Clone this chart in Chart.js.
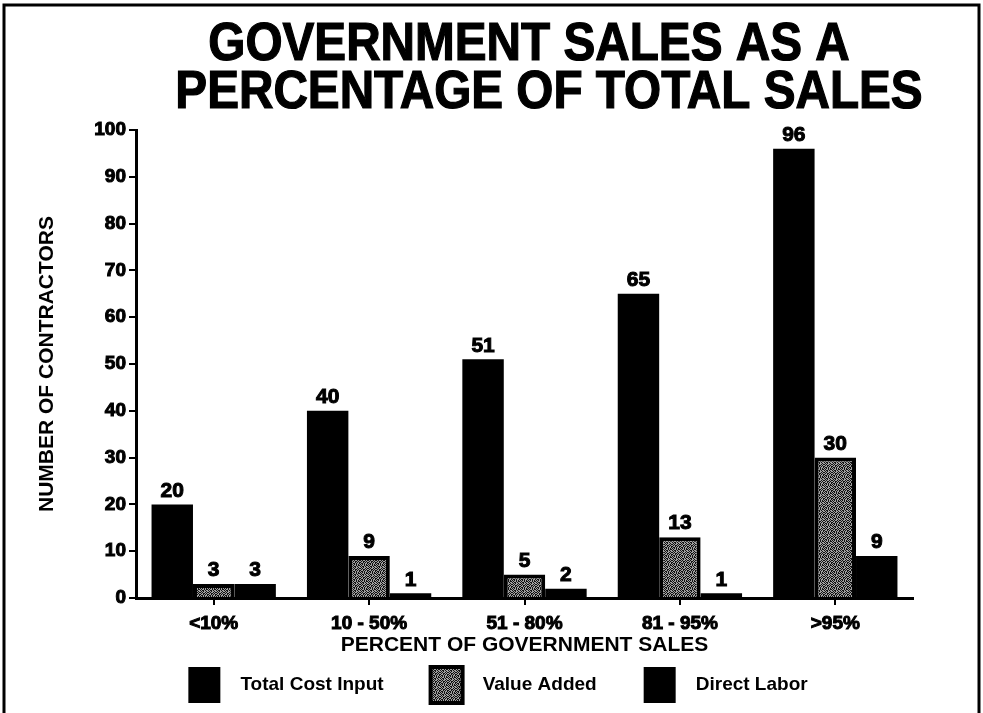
<!DOCTYPE html>
<html>
<head>
<meta charset="utf-8">
<title>Government Sales as a Percentage of Total Sales</title>
<script src="https://cdn.jsdelivr.net/npm/chart.js@4.4.1/dist/chart.umd.min.js"></script>
<style>
  html, body { margin: 0; padding: 0; background: #fff; }
  #wrap { width: 983px; height: 713px; }
</style>
</head>
<body>
<div id="wrap"><canvas id="salesChart" width="983" height="713"></canvas></div>
<script>
// categories and series
const categories = ['<10%', '10 - 50%', '51 - 80%', '81 - 95%', '>95%'];
const totalCostInput = [20, 40, 51, 65, 96];
const valueAdded = [3, 9, 5, 13, 30];
const directLabor = [3, 1, 2, 1, 9];

// y axis range
const yMin = 0;
const yMax = 100;
const yStep = 10;

const titleLines = ['GOVERNMENT SALES AS A', 'PERCENTAGE OF TOTAL SALES'];
const FONT = '"Liberation Sans", Arial, Helvetica, sans-serif';

Chart.defaults.font.family = FONT;
Chart.defaults.font.weight = 'bold';
Chart.defaults.color = '#000';

// speckled gray fill for the Value Added bars
function makeStipple() {
    const tile = [
        '#.#..#.#',
        '.#.##.#.',
        '#..#.#.#',
        '.##.#..#',
        '#.#.#.#.',
        '.#..#.##',
        '#.##.#..',
        '.#.#..#.'
    ];
    const c = document.createElement('canvas');
    c.width = tile[0].length;
    c.height = tile.length;
    const g = c.getContext('2d');
    tile.forEach((row, y) => {
        [...row].forEach((ch, x) => {
            g.fillStyle = ch === '#' ? '#111' : '#a0a0a0';
            g.fillRect(x, y, 1, 1);
        });
    });
    return g.createPattern(c, 'repeat');
}

const ctx = document.getElementById('salesChart');
const stipple = makeStipple();

// thin black frame round the whole sheet
const framePlugin = {
    id: 'frame',
    beforeDraw(chart) {
        const c = chart.ctx;
        c.save();
        c.fillStyle = '#fff';
        c.fillRect(0, 0, chart.width, chart.height);
        c.strokeStyle = '#000';
        c.lineWidth = 3;
        c.strokeRect(4, 5, chart.width - 8, chart.height + 20);
        c.restore();
    }
};

// two-line heading, squeezed a little like the printed type
const headingPlugin = {
    id: 'heading',
    afterDraw(chart) {
        const c = chart.ctx;
        const centers = [529, 549];
        const baselines = [60, 108];
        c.save();
        c.fillStyle = '#000';
        c.strokeStyle = '#000';
        c.lineWidth = 1.2;
        c.font = 'bold 53px ' + FONT;
        c.textAlign = 'center';
        c.textBaseline = 'alphabetic';
        titleLines.forEach((line, i) => {
            c.save();
            c.translate(centers[i], baselines[i]);
            c.scale(0.9, 1);
            c.fillText(line, 0, 0);
            c.strokeText(line, 0, 0);
            c.restore();
        });
        c.restore();
    }
};

// value printed above each bar
const valueLabels = {
    id: 'valueLabels',
    afterDatasetsDraw(chart) {
        const c = chart.ctx;
        c.save();
        c.fillStyle = '#000';
        c.strokeStyle = '#000';
        c.lineWidth = 1;
        c.font = 'bold 21px ' + FONT;
        c.textAlign = 'center';
        c.textBaseline = 'bottom';
        chart.data.datasets.forEach((ds, i) => {
            chart.getDatasetMeta(i).data.forEach((bar, j) => {
                const txt = String(ds.data[j]);
                c.fillText(txt, bar.x, bar.y - 3);
                c.strokeText(txt, bar.x, bar.y - 3);
            });
        });
        c.restore();
    }
};

// legend: shorter box so the plot can grow, placed across the full sheet width
const LEGEND_HEIGHT = 75;
const LEGEND_TOP = 620;
const legendPlace = {
    id: 'legendPlace',
    beforeLayout(chart) {
        const lg = chart.legend;
        if (lg && !lg._fitWrapped) {
            const fit = lg.fit;
            lg.fit = function () {
                fit.call(this);
                this.height = LEGEND_HEIGHT;
            };
            lg._fitWrapped = true;
        }
    },
    afterLayout(chart) {
        const lg = chart.legend;
        if (lg) {
            lg.left = 13;
            lg.right = chart.width;
            lg.top = LEGEND_TOP;
            lg.bottom = chart.height;
        }
    }
};

new Chart(ctx, {
    type: 'bar',
    data: {
        labels: categories,
        datasets: [
            {
                label: 'Total Cost Input',
                data: totalCostInput,
                backgroundColor: '#000',
                borderColor: '#000',
                borderWidth: 0
            },
            {
                label: 'Value Added',
                data: valueAdded,
                backgroundColor: stipple,
                borderColor: '#000',
                borderWidth: 4
            },
            {
                label: 'Direct Labor',
                data: directLabor,
                backgroundColor: '#000',
                borderColor: '#000',
                borderWidth: 0
            }
        ]
    },
    options: {
        responsive: false,
        animation: false,
        layout: { padding: { top: 130, right: 70, bottom: 0, left: 0 } },
        datasets: {
            bar: { categoryPercentage: 0.8, barPercentage: 1.0, borderSkipped: 'bottom' }
        },
        scales: {
            x: {
                grid: { offset: false, drawOnChartArea: false, color: '#000', lineWidth: 2, tickLength: 7 },
                border: { color: '#000', width: 3 },
                ticks: {
                    color: '#000',
                    font: { size: 19, weight: 'bold' },
                    textStrokeColor: '#000',
                    textStrokeWidth: 1,
                    padding: 7,
                    maxRotation: 0
                },
                title: {
                    display: true,
                    text: 'PERCENT OF GOVERNMENT SALES',
                    color: '#000',
                    font: { size: 21, weight: 'bold' },
                    padding: { top: 0, bottom: -20 }
                },
                afterFit(scale) { scale.height = 40; }
            },
            y: {
                min: yMin,
                max: yMax,
                grid: { drawOnChartArea: false, color: '#000', lineWidth: 2, tickLength: 7 },
                border: { color: '#000', width: 3 },
                ticks: {
                    stepSize: yStep,
                    color: '#000',
                    font: { size: 19, weight: 'bold' },
                    textStrokeColor: '#000',
                    textStrokeWidth: 1,
                    padding: 3
                },
                title: {
                    display: true,
                    text: 'NUMBER OF CONTRACTORS',
                    color: '#000',
                    font: { size: 21, weight: 'bold' },
                    padding: { top: 35, bottom: 0 }
                },
                afterFit(scale) { scale.width = 136; }
            }
        },
        plugins: {
            legend: {
                position: 'bottom',
                labels: {
                    color: '#000',
                    boxWidth: 32,
                    boxHeight: 36,
                    padding: 47,
                    font: { size: 19, weight: 'bold' },
                    generateLabels(chart) {
                        const items = Chart.defaults.plugins.legend.labels.generateLabels(chart);
                        items.forEach(item => { item.text = '  ' + item.text; });
                        return items;
                    }
                }
            },
            tooltip: { enabled: false }
        }
    },
    plugins: [framePlugin, headingPlugin, valueLabels, legendPlace]
});
</script>
</body>
</html>
